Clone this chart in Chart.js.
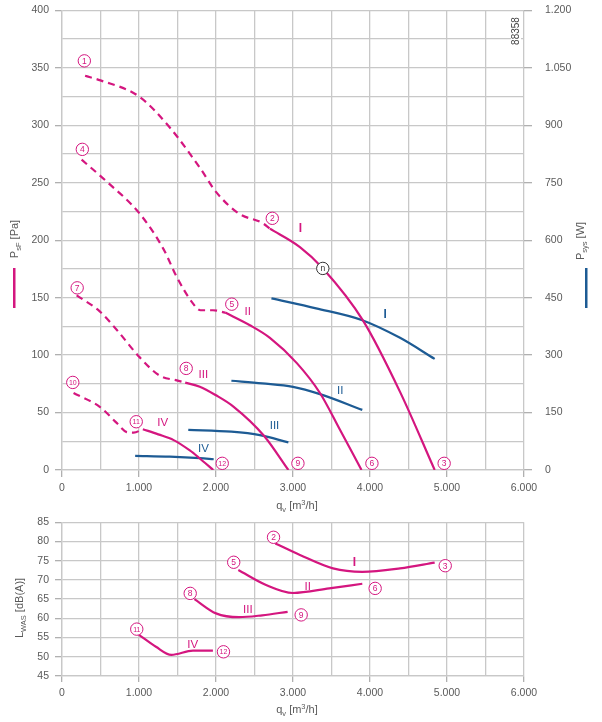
<!DOCTYPE html>
<html>
<head>
<meta charset="utf-8">
<script src="https://cdn.jsdelivr.net/npm/chart.js@4.4.1/dist/chart.umd.min.js"></script>
<style>
body { margin: 0; background: #fff; overflow: hidden; }
canvas { position: absolute; left: 0; }
#top { top: -9px; }
#bot { top: 510px; }
</style>
</head>
<body>
<canvas id="top" width="602" height="524"></canvas>
<canvas id="bot" width="602" height="212"></canvas>
<script>
// pressure curves, speeds I..IV (solid = working range, dashed = stall range)
var qPI = [2700, 3090, 3380, 3910, 4390, 4840];
var pPI = [210, 194, 176, 130, 68, 0];
var qPIdash = [300, 500, 1000, 1400, 1800, 2000, 2300, 2600, 2700];
var pPIdash = [343, 339, 325, 298, 262, 242, 223, 215, 210];

var qPII = [2120, 2440, 2700, 3050, 3350, 3610, 3890];
var pPII = [137, 126, 115, 93, 67, 35, 0];
var qPIIdash = [255, 580, 1010, 1320, 1490, 1700, 1800, 1960, 2120];
var pPIIdash = [270, 251, 223, 192, 168, 145, 139, 139, 137];

var qPIII = [1600, 1790, 2000, 2230, 2620, 2940];
var pPIII = [76, 72.5, 65, 55, 30, 0];
var qPIIIdash = [190, 490, 710, 1010, 1270, 1490, 1600];
var pPIIIdash = [152, 138, 122, 98, 82, 78, 76];

var qPIV = [1050, 1250, 1450, 1660, 1790, 1965];
var pPIV = [35.5, 31, 26, 17, 10, 0];
var qPIVdash = [150, 490, 710, 840, 930, 1050];
var pPIVdash = [67, 55, 41, 33, 32.5, 35.5];

// power input [W]
var qWI = [2720, 3300, 3900, 4390, 4840];
var wI = [448, 422, 391, 345, 290];
var qWII = [2200, 2600, 3000, 3350, 3900];
var wII = [233, 226, 217, 198, 157];
var qWIII = [1640, 2200, 2570, 2940];
var wIII = [105, 100, 91, 72];
var qWIV = [950, 1400, 1790, 1970];
var wIV = [37, 35, 31, 28];

// sound power level [dB(A)]
var qLI = [2770, 3090, 3520, 3900, 4390, 4840];
var lI = [79.5, 76.5, 73, 72.1, 73, 74.5];
var qLII = [2290, 2650, 3000, 3470, 3900];
var lII = [72.6, 68.7, 66.6, 67.8, 69];
var qLIII = [1720, 2000, 2300, 2600, 2930];
var lIII = [65, 61.3, 60.3, 60.8, 61.7];
var qLIV = [1000, 1220, 1420, 1700, 1960];
var lIV = [55.7, 52.6, 50.5, 51.6, 51.6];

var MAG = '#d4167f';
var BLUE = '#1d5b94';
var GRID = '#c8c8c8';
var TXT = '#5a5a5a';
var FONT = '"Liberation Sans", Arial, sans-serif';

function pts(xs, ys) {
  return xs.map(function (x, i) { return { x: x, y: ys[i] }; });
}
function fmt(v) {
  if (v >= 1000) return Math.floor(v / 1000) + '.' + String(v % 1000).padStart(3, '0');
  return String(v);
}
function line(xs, ys, color, dashed, axis) {
  return {
    data: pts(xs, ys),
    showLine: true,
    borderColor: color,
    borderWidth: 2.2,
    borderDash: dashed ? [7, 5] : [],
    pointRadius: 0,
    cubicInterpolationMode: 'monotone',
    yAxisID: axis || 'y'
  };
}

function circled(ctx, x, y, t, color) {
  ctx.save();
  ctx.beginPath();
  ctx.arc(x, y, 6.2, 0, Math.PI * 2);
  ctx.fillStyle = '#fff';
  ctx.fill();
  ctx.lineWidth = 1;
  ctx.strokeStyle = color;
  ctx.stroke();
  ctx.fillStyle = color;
  ctx.font = (t.length > 1 ? '7px ' : '8.5px ') + FONT;
  ctx.textAlign = 'center';
  ctx.textBaseline = 'middle';
  ctx.fillText(t, x, y + 0.5);
  ctx.restore();
}
function roman(ctx, x, y, t, color) {
  ctx.save();
  ctx.fillStyle = color;
  ctx.font = (t === 'I' ? 'bold 12px ' : '11.5px ') + FONT;
  ctx.textAlign = 'center';
  ctx.textBaseline = 'middle';
  ctx.fillText(t, x, y);
  ctx.restore();
}
// text made of parts: [text, size, baseline shift]
function partsText(ctx, parts, x, y, rot, color) {
  ctx.save();
  ctx.translate(x, y);
  ctx.rotate(rot);
  ctx.fillStyle = color;
  ctx.textBaseline = 'alphabetic';
  ctx.textAlign = 'left';
  var w = 0;
  parts.forEach(function (p) { ctx.font = p[1] + 'px ' + FONT; w += ctx.measureText(p[0]).width; });
  var cx = -w / 2;
  parts.forEach(function (p) {
    ctx.font = p[1] + 'px ' + FONT;
    ctx.fillText(p[0], cx, 4 + p[2]);
    cx += ctx.measureText(p[0]).width;
  });
  ctx.restore();
}

var qTitle = [['q', 11, 0], ['v', 7.5, 2.5], [' [m', 11, 0], ['3', 7.5, -4], ['/h]', 11, 0]];

function marksPlugin(marks, extra) {
  return {
    id: 'marks',
    afterDatasetsDraw: function (chart) {
      var ctx = chart.ctx;
      var sx = chart.scales.x, sy = chart.scales.y;
      marks.forEach(function (m) {
        var x = sx.getPixelForValue(m[0]), y = sy.getPixelForValue(m[1]);
        if (m[3] === 'c') circled(ctx, x, y, m[2], m[4]);
        else roman(ctx, x, y, m[2], m[4]);
      });
      extra(ctx, chart);
    }
  };
}

function tickCol(step) {
  return function (c) { return c.tick && Math.round(c.tick.value) % step === 0 ? '#b0b0b0' : 'rgba(0,0,0,0)'; };
}

var topMarks = [
  [290, 356, '1', 'c', MAG], [2731, 219, '2', 'c', MAG], [4963, 5.8, '3', 'c', MAG],
  [264, 279, '4', 'c', MAG], [2205, 144.3, '5', 'c', MAG], [4025, 5.8, '6', 'c', MAG],
  [197, 158.5, '7', 'c', MAG], [1613, 88.4, '8', 'c', MAG], [3064, 5.8, '9', 'c', MAG],
  [140, 76.2, '10', 'c', MAG], [964, 42, '11', 'c', MAG], [2081, 5.8, '12', 'c', MAG],
  [3387, 175.4, 'n', 'c', '#333'],
  [3097, 209.6, 'I', 'r', MAG], [2413, 137.7, 'II', 'r', MAG], [1835, 82.6, 'III', 'r', MAG], [1309, 41, 'IV', 'r', MAG],
  [4197, 135.4, 'I', 'r', BLUE], [3613, 69, 'II', 'r', BLUE], [2760, 38.5, 'III', 'r', BLUE], [1838, 18, 'IV', 'r', BLUE]
];
var botMarks = [
  [2747, 81.1, '2', 'c', MAG], [2230, 74.6, '5', 'c', MAG], [1665, 66.5, '8', 'c', MAG], [971, 57.2, '11', 'c', MAG],
  [4977, 73.7, '3', 'c', MAG], [4067, 67.8, '6', 'c', MAG], [3106, 60.9, '9', 'c', MAG], [2097, 51.3, '12', 'c', MAG],
  [3799, 74.5, 'I', 'r', MAG], [3192, 68.1, 'II', 'r', MAG], [2413, 62.2, 'III', 'r', MAG], [1698, 53.1, 'IV', 'r', MAG]
];

var xAxis = function (h, tl, pad) {
  return {
    type: 'linear', min: 0, max: 6000,
    ticks: { stepSize: 500, autoSkip: false, maxRotation: 0, padding: pad, color: TXT, font: { family: FONT, size: 10.5 },
      callback: function (v) { return v % 1000 === 0 ? fmt(v) : ''; } },
    grid: { color: GRID, lineWidth: 1.3, tickLength: tl, tickColor: tickCol(1000) },
    border: { color: GRID, width: 1.3 },
    afterFit: function (s) { s.height = h; }
  };
};

new Chart(document.getElementById('top'), {
  type: 'scatter',
  data: {
    datasets: [
      line(qPIdash, pPIdash, MAG, true), line(qPI, pPI, MAG, false),
      line(qPIIdash, pPIIdash, MAG, true), line(qPII, pPII, MAG, false),
      line(qPIIIdash, pPIIIdash, MAG, true), line(qPIII, pPIII, MAG, false),
      line(qPIVdash, pPIVdash, MAG, true), line(qPIV, pPIV, MAG, false),
      line(qWI, wI, BLUE, false, 'y2'), line(qWII, wII, BLUE, false, 'y2'),
      line(qWIII, wIII, BLUE, false, 'y2'), line(qWIV, wIV, BLUE, false, 'y2')
    ]
  },
  options: {
    responsive: false,
    animation: false,
    layout: { padding: { top: 1, left: 0, right: 0, bottom: 0 } },
    plugins: { legend: { display: false }, tooltip: { enabled: false } },
    scales: {
      x: xAxis(45, 7, 5),
      y: {
        position: 'left', min: 0, max: 400,
        ticks: { stepSize: 25, autoSkip: false, padding: 6, color: TXT, font: { family: FONT, size: 10.5 },
          callback: function (v) { return v % 50 === 0 ? fmt(v) : ''; } },
        grid: { color: GRID, lineWidth: 1.3, tickLength: 7, tickColor: tickCol(50) },
        border: { color: GRID, width: 1.3 },
        afterFit: function (s) { s.width = 62; }
      },
      y2: {
        position: 'right', min: 0, max: 1200,
        ticks: { stepSize: 150, autoSkip: false, padding: 13, color: TXT, font: { family: FONT, size: 10.5 },
          callback: function (v) { return fmt(v); } },
        grid: { drawOnChartArea: false, color: '#b0b0b0', lineWidth: 1.3, tickLength: 8 },
        border: { display: false },
        afterFit: function (s) { s.width = 78; }
      }
    }
  },
  plugins: [marksPlugin(topMarks, function (ctx, chart) {
    // canvas is shifted up by 9px
    partsText(ctx, qTitle, 297, 514, 0, TXT);
    partsText(ctx, [['P', 11, 0], ['sF', 7.5, 2.5], [' [Pa]', 11, 0]], 14, 248, -Math.PI / 2, TXT);
    ctx.fillStyle = MAG;
    ctx.fillRect(13, 277, 2.5, 40);
    partsText(ctx, [['P', 11, 0], ['sys', 7.5, 2.5], [' [W]', 11, 0]], 580, 250, -Math.PI / 2, TXT);
    ctx.fillStyle = BLUE;
    ctx.fillRect(585, 277, 2.5, 40);
    ctx.save();
    ctx.translate(516, 40);
    ctx.rotate(-Math.PI / 2);
    ctx.fillStyle = '#fff';
    ctx.fillRect(-17, -5, 34, 10);
    ctx.fillStyle = '#444';
    ctx.font = '10px ' + FONT;
    ctx.textAlign = 'center';
    ctx.textBaseline = 'middle';
    ctx.fillText('88358', 0, 0);
    ctx.restore();
  })]
});

new Chart(document.getElementById('bot'), {
  type: 'scatter',
  data: {
    datasets: [
      line(qLI, lI, MAG, false), line(qLII, lII, MAG, false),
      line(qLIII, lIII, MAG, false), line(qLIV, lIV, MAG, false)
    ]
  },
  options: {
    responsive: false,
    animation: false,
    layout: { padding: { top: 2, left: 0, right: 78, bottom: 0 } },
    plugins: { legend: { display: false }, tooltip: { enabled: false } },
    scales: {
      x: xAxis(46, 6, 5),
      y: {
        position: 'left', min: 45, max: 85,
        ticks: { stepSize: 5, autoSkip: false, padding: 6, color: TXT, font: { family: FONT, size: 10.5 } },
        grid: { color: GRID, lineWidth: 1.3, tickLength: 7, tickColor: '#b0b0b0' },
        border: { color: GRID, width: 1.3 },
        afterFit: function (s) { s.width = 62; }
      }
    }
  },
  plugins: [marksPlugin(botMarks, function (ctx, chart) {
    partsText(ctx, qTitle, 297, 199, 0, TXT);
    partsText(ctx, [['L', 11, 0], ['WAS', 7.5, 2.5], [' [dB(A)]', 11, 0]], 19, 98, -Math.PI / 2, TXT);
  })]
});
</script>
</body>
</html>
